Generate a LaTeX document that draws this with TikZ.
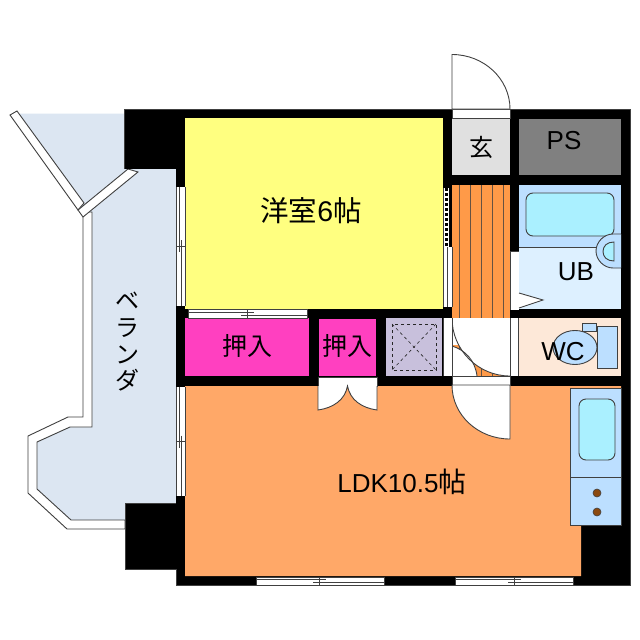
\documentclass[tikz,border=0pt]{standalone}
\usepackage{fontspec}
\setmainfont{Liberation Sans}
\newfontfamily\jp{Noto Sans CJK JP}
\definecolor{wallk}{HTML}{000000}
\definecolor{lnc}{HTML}{404040}
\definecolor{veranda}{HTML}{DCE6F2}
\definecolor{yellowroom}{HTML}{FFFF80}
\definecolor{pinkroom}{HTML}{FF40C0}
\definecolor{ldk}{HTML}{FFA868}
\definecolor{stair}{HTML}{FF9A48}
\definecolor{genkan}{HTML}{E0E0E0}
\definecolor{ps}{HTML}{808080}
\definecolor{ubdark}{HTML}{BCDFFF}
\definecolor{ublight}{HTML}{DDF0FF}
\definecolor{tub}{HTML}{AAF0FF}
\definecolor{wcroom}{HTML}{FDE8D8}
\definecolor{store}{HTML}{C8C0DC}
\definecolor{burner}{HTML}{8B4A10}
\tikzset{
  ln/.style={draw=lnc,line width=0.9pt},
  whitepart/.style={fill=white,ln},
  label/.style={inner sep=0pt,font=\fontsize{26}{26}\selectfont},
  jplabel/.style={inner sep=0pt,font=\jp\fontsize{25}{25}\selectfont},
}
\newcommand{\hwin}[5]{% x1 x2 y1 y2 xc
  \fill[white] (#1,#3) rectangle (#2,#4);
  \draw[ln] (#1,#3) rectangle (#2,#4);
  \draw[draw=lnc,line width=0.6pt] (#1,#3+2.5) -- (#5+7,#3+2.5) (#5-6,#3+5.5) -- (#2,#3+5.5) (#5,#3) -- (#5,#4);
}
\newcommand{\vwin}[5]{% x1 x2 y1 y2 yc
  \fill[white] (#1,#3) rectangle (#2,#4);
  \draw[ln] (#1,#3) -- (#1,#4) (#2,#3) -- (#2,#4);
  \draw[draw=lnc,line width=0.6pt] (#1+3,#3) -- (#1+3,#5+6) (#1+5.5,#5-6) -- (#1+5.5,#4) (#1,#5) -- (#2,#5);
}
\begin{document}
\begin{tikzpicture}[x=1pt,y=-1pt]
\useasboundingbox[fill=white] (0,0) rectangle (640,640);
% veranda
\fill[veranda] (17,113.5) -- (124,113.5) -- (124,169) -- (176,169) -- (176,503) -- (125,503) -- (125,520) -- (71,520) -- (37,489) -- (37,442) -- (70,427) -- (92,427) -- (92,213) -- (78,210) -- cycle;
% parapet
\draw[whitepart] (83,212) -- (92,212) -- (92,427) -- (70,427) -- (37,442) -- (37,489) -- (71,520) -- (125,520) -- (125,529) -- (67,529) -- (28,493) -- (28,436) -- (68,417) -- (83,417) -- cycle;
\draw[whitepart] (10,115) -- (17,111) -- (84,203) -- (78,210) -- cycle;
\draw[whitepart] (78,210) -- (128,169) -- (138,172) -- (83,217) -- cycle;
% walls
\fill[wallk] (176,109) rectangle (630,585);
\fill[wallk] (124,109) rectangle (176,169);
\fill[wallk] (125,503) rectangle (176,569);
\draw[draw=lnc,line width=0.6pt] (124,169) -- (124,109) -- (630,109) -- (630,585) -- (176,585) -- (176,569) -- (125,569) -- (125,503) -- (176,503);
% rooms
\fill[yellowroom] (185,118) rectangle (443,309);
\fill[pinkroom] (185,318) rectangle (309,376);
\fill[pinkroom] (319,319) rectangle (376,376);
\fill[ldk] (185,386) -- (621,386) -- (621,525) -- (581,525) -- (581,576) -- (185,576) -- cycle;
\fill[store] (386,318) rectangle (442,376);
\draw[draw=black!85,line width=0.8pt,dashed] (392,324) rectangle (436,370);
\draw[draw=black!85,line width=0.6pt,dashed] (392,324) -- (436,370) (436,324) -- (392,370);
% entrance
\fill[genkan] (452,119) rectangle (510,175);
\fill[ps] (519,119) rectangle (621,175);
\draw[whitepart] (452,109) rectangle (510,118);
\draw[whitepart] (452,109) -- (452,54.5) .. controls (484,54.5) and (510,79) .. (510,109) -- cycle;
% stairs
\fill[stair] (452,185) rectangle (510,376);
\foreach \sx in {459,470,481,492,503} \draw[draw=lnc!80!stair,line width=0.9pt] (\sx,185) -- (\sx,376);
% corridor & doors
\fill[white] (452,318) .. controls (452,350) and (478,376) .. (510,376) -- (510,318) -- cycle;
\fill[white] (452,318) rectangle (462,345);
\fill[white] (452,346) .. controls (465,350) and (475,360) .. (477,376) -- (452,376) -- cycle;
\draw[ln] (452,318) .. controls (452,350) and (478,376) .. (510,376);
\draw[ln] (452,346) .. controls (465,350) and (475,360) .. (477,376);
\fill[white] (443,318) rectangle (452,376);
\fill[white] (510,318) rectangle (518,376);
\draw[ln] (443,318) -- (443,376) (452,318) -- (452,376) (510,318) -- (510,376) (518,318) -- (518,376);
\draw[whitepart] (452,376) rectangle (510,385);
\draw[whitepart] (452,385) .. controls (452,415) and (478,439) .. (510,439) -- (510,385) -- cycle;
% closet doors
\draw[whitepart] (318,377) rectangle (377,386);
\draw[whitepart] (318,386) -- (318,410) .. controls (333,408) and (345,400) .. (347.5,386) .. controls (350,400) and (362,408) .. (377,410) -- (377,386);
% windows
\hwin{188}{307}{309.5}{318}{247}
\hwin{256}{384}{577}{585}{319}
\hwin{455}{573}{577}{585}{514}
\vwin{176}{185}{187}{306}{246}
\vwin{176}{185}{387}{496}{441.5}
% interior windows
\fill[white] (443,247) rectangle (452,307);
\draw[ln] (443.5,247) -- (443.5,307) (447.5,247) -- (447.5,307) (452,247) -- (452,307);
\fill[white] (443,188) rectangle (449,247);
\draw[draw=black,line width=3pt,dash pattern=on 2.5pt off 2.5pt] (446,188) -- (446,247);
\draw[draw=lnc,line width=0.6pt] (443.5,188) -- (443.5,247);
\fill[white] (510,251) rectangle (519,310);
\draw[draw=lnc,line width=0.6pt] (510,251) -- (519,251) (510,251) -- (510,310);
% UB
\fill[ubdark] (519,185) rectangle (621,247);
\fill[ublight] (519,247) rectangle (621,309);
\draw[ln,fill=tub,rounded corners=7pt] (526,193) rectangle (614,236);
\draw[ln] (519,247) -- (597,247);
\draw[ln,fill=ubdark] (621,234) -- (613,234) .. controls (604,234) and (596,242) .. (596,251) .. controls (596,260) and (604,268) .. (613,268) -- (621,268);
\draw[ln,fill=tub] (614,242) .. controls (607,242) and (603,246) .. (603,251.5) .. controls (603,257) and (607,261) .. (614,261) -- cycle;
\draw[whitepart] (519,293) -- (543,300) -- (519,308);
% WC
\fill[wcroom] (519,318) rectangle (621,376);
\draw[ln,fill=ubdark] (575,347.5) ellipse[x radius=22,y radius=17];
\draw[ln,fill=ubdark] (597,326) rectangle (617,368);
\draw[ln,fill=ubdark] (582,323) rectangle (596,331);
% kitchen
\draw[ln,fill=ubdark] (570,388) rectangle (621,525);
\draw[ln] (570,477) -- (621,477);
\draw[ln,fill=tub,rounded corners=7pt] (579,399) rectangle (615,460);
\draw[draw=lnc,line width=0.6pt,fill=burner] (597,493) circle[radius=4];
\draw[draw=lnc,line width=0.6pt,fill=burner] (597,512) circle[radius=4];
% labels
\node[jplabel,font=\jp\fontsize{28.5}{28.5}\selectfont] (yoshitsu) at (311,211) {洋室{\fontspec{Liberation Sans}6}帖};
\node[jplabel] (oshi1) at (247,346) {押入};
\node[jplabel] (oshi2) at (347.5,346) {押入};
\node[jplabel,font=\jp\fontsize{24}{24}\selectfont] (gen) at (481,147) {玄};
\node[label] (pslabel) at (564,141) {PS};
\node[label] (ublabel) at (576,272) {UB};
\node[label] (wclabel) at (563,352) {WC};
\node[label] (ldklabel) at (402,482) {LDK10.5{\jp\fontsize{28}{28}\selectfont 帖}};
\node[inner sep=0pt,align=center,font=\jp\fontsize{24}{26.7}\selectfont] (ver) at (127,342) {ベ\\ラ\\ン\\ダ};
\end{tikzpicture}
\end{document}
